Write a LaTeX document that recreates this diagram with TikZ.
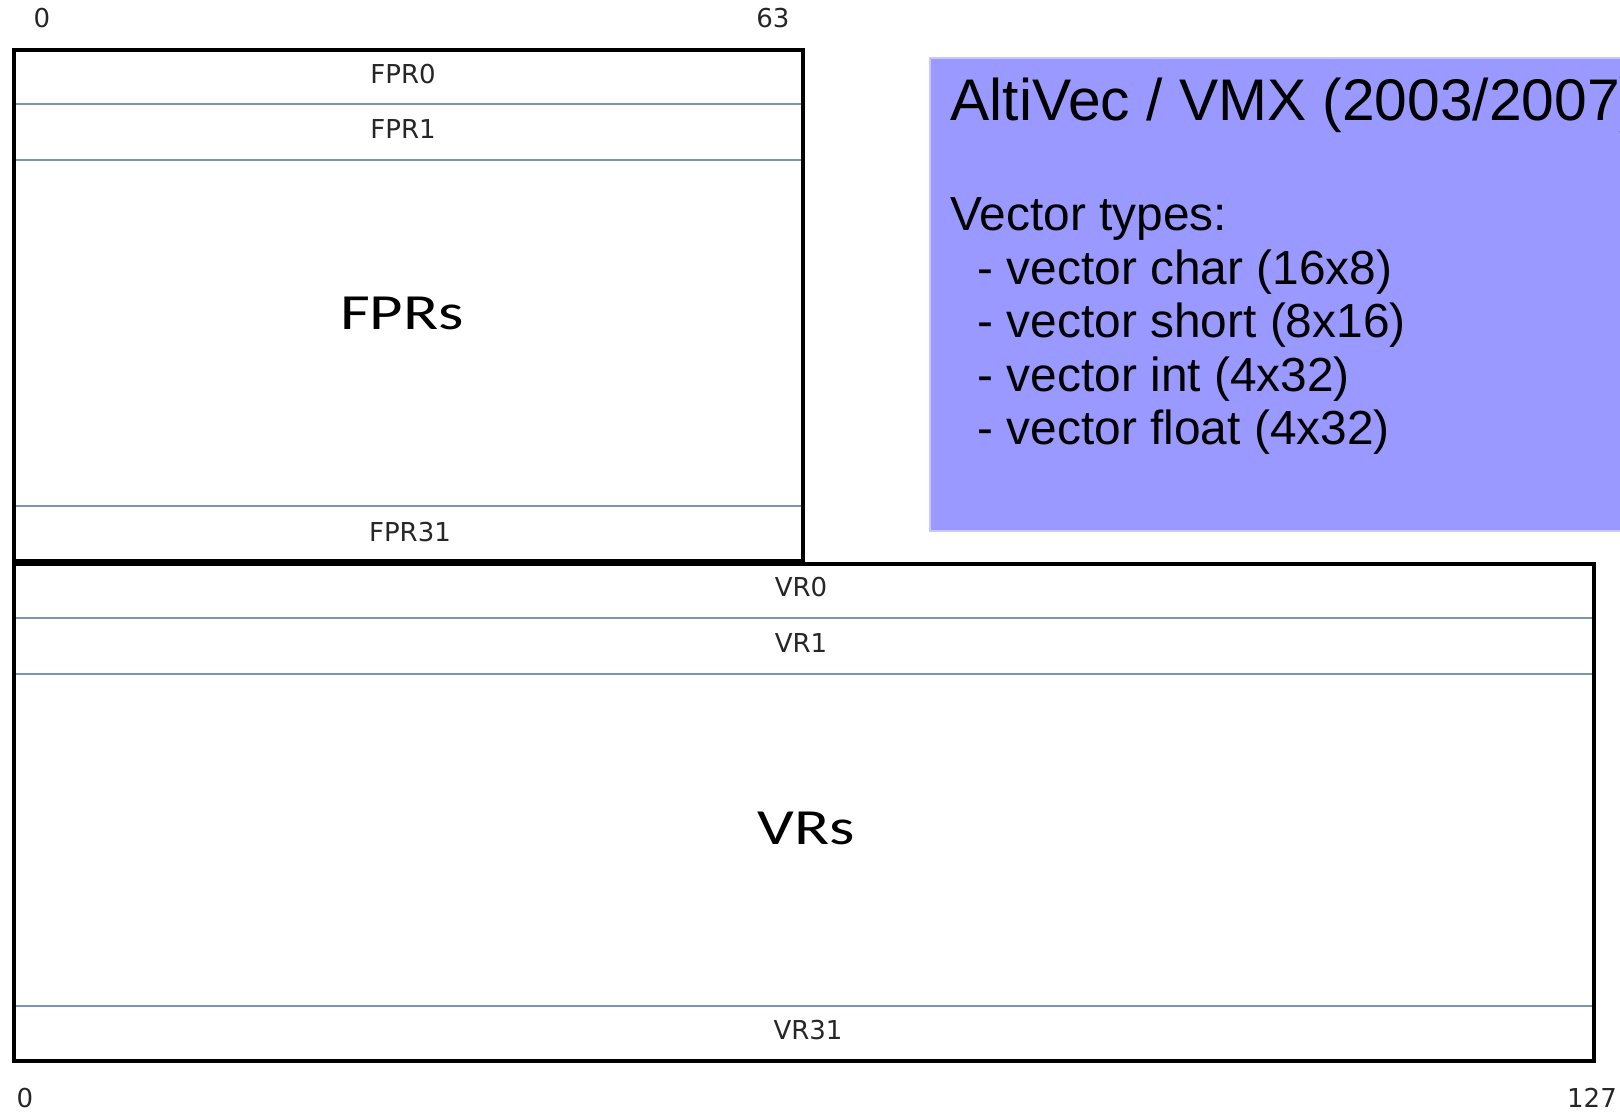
\documentclass[tikz,border=0pt]{standalone}
\usepackage{fontspec}
\newfontfamily\regfont{DejaVu Sans}
\newfontfamily\setfont{Carlito}
\newfontfamily\boxfont{Liberation Sans}
\definecolor{rowline}{RGB}{120,150,180}
\definecolor{vmxblue}{RGB}{153,153,255}
\definecolor{vmxedge}{RGB}{200,200,255}

\begin{document}
\begin{tikzpicture}[x=0.01cm,y=-0.01cm,
	reglbl/.style={font=\regfont\fontsize{7.4}{9}\selectfont,text=black!85,inner sep=0pt,anchor=base},
	setlbl/.style={font=\setfont\fontsize{14.4}{16}\selectfont,xscale=1.28,inner sep=0pt,anchor=base},
	titlelbl/.style={font=\boxfont\fontsize{16.7}{19}\selectfont,inner sep=0pt,anchor=base west},
	boxlbl/.style={font=\boxfont\fontsize{13.6}{15.2}\selectfont,inner sep=0pt,anchor=base west},
	regbox/.style={line width=1.2pt},
	rowsep/.style={rowline,line width=0.45pt}]
\clip (0,0) rectangle (1620,1113);

%AltiVec box
\fill[vmxblue] (930,58) rectangle (1650,531);
\draw[vmxedge,line width=0.5pt] (1650,58)--(930,58)--(930,531)--(1650,531);
\node[titlelbl] (title) at (950,121) {AltiVec / VMX (2003/2007)};
\node[boxlbl] (types) at (950,231) {Vector types:};
\node[boxlbl] (tchar)  at (977,284.5) {- vector char (16x8)};
\node[boxlbl] (tshort) at (977,338)   {- vector short (8x16)};
\node[boxlbl] (tint)   at (977,391.5) {- vector int (4x32)};
\node[boxlbl] (tfloat) at (977,445)   {- vector float (4x32)};

%bit numbers
\node[reglbl] (fbit0)  at (42,28)     {0};
\node[reglbl] (fbit63) at (773,28)    {63};
\node[reglbl] (vbit0)  at (25,1108)   {0};
\node[reglbl] (vbit127) at (1592,1108) {127};

%FPRs - lines
\draw[rowsep] (14,104)--(803,104);	%FPR0--FPR1
\draw[rowsep] (14,160)--(803,160);	%FPR1--rest
\draw[rowsep] (14,506)--(803,506);	%rest--FPR31
\draw[regbox] (14,50) rectangle (803,561);
%FPRs - letters
\node[reglbl] (fpr0)  at (403,84)  {FPR0};
\node[reglbl] (fpr1)  at (403,139) {FPR1};
\node[setlbl] (fprs)  at (402,330) {FPRs};
\node[reglbl] (fpr31) at (410,542) {FPR31};

%VRs - lines
\draw[rowsep] (14,618)--(1594,618);	%VR0--VR1
\draw[rowsep] (14,674)--(1594,674);	%VR1--rest
\draw[rowsep] (14,1006)--(1594,1006);	%rest--VR31
\draw[regbox] (14,564) rectangle (1594,1061);
%VRs - letters
\node[reglbl] (vr0)  at (801,597)  {VR0};
\node[reglbl] (vr1)  at (801,653)  {VR1};
\node[setlbl] (vrs)  at (806,845)  {VRs};
\node[reglbl] (vr31) at (808,1040) {VR31};
\end{tikzpicture}
\end{document}
